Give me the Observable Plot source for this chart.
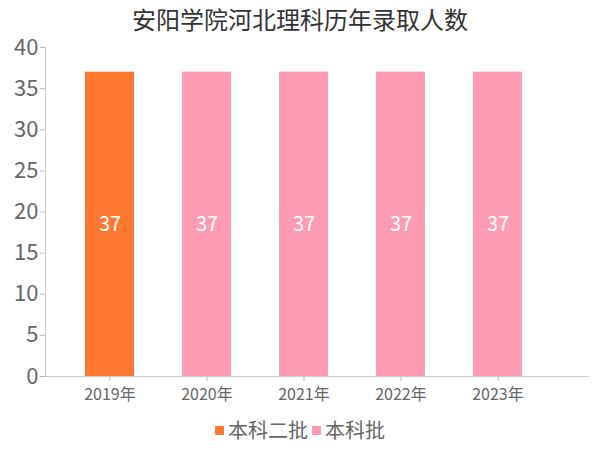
<!DOCTYPE html>
<html>
<head>
<meta charset="utf-8">
<script src="https://cdn.jsdelivr.net/npm/d3@7"></script>
<script src="https://cdn.jsdelivr.net/npm/@observablehq/plot@0.6"></script>
<style>
  html, body { margin: 0; padding: 0; background: #fff; }
  body { width: 600px; height: 450px; overflow: hidden; font-family: "Noto Sans CJK SC", "Noto Sans", sans-serif; }
  #title { height: 38px; line-height: 38px; text-align: center; font-size: 24px; color: #333; }
  #legend { height: 40px; line-height: 40px; text-align: center; font-size: 20px; color: #666; }
  #legend .item { display: inline-block; margin: 0 2px; }
  #legend .sw { display: inline-block; width: 9px; height: 9px; margin-right: 4px; vertical-align: middle; position: relative; top: -2px; }
  #chart svg { display: block; color: #ccc; }
  #chart [aria-label="y-axis tick label"] { font-size: 22px; fill: #666; }
  #chart [aria-label="x-axis tick label"] { font-size: 16px; fill: #666; }
  #chart [aria-label="y-axis tick"], #chart [aria-label="x-axis tick"] { stroke: #bbb; }
</style>
</head>
<body>
<div id="title"></div>
<div id="chart"></div>
<div id="legend"></div>
<script>
const titleText = "安阳学院河北理科历年录取人数";
const years = ["2019年", "2020年", "2021年", "2022年", "2023年"];
const batches = ["本科二批", "本科批", "本科批", "本科批", "本科批"];
const counts = [37, 37, 37, 37, 37];
const seriesNames = ["本科二批", "本科批"];
const seriesColors = ["#FF7832", "#FF9BB5"];
const yTicks = [0, 5, 10, 15, 20, 25, 30, 35, 40];

const data = years.map((y, i) => ({year: y, batch: batches[i], value: counts[i]}));

document.getElementById("title").textContent = titleText;

const chart = Plot.plot({
  width: 600,
  height: 372,
  marginTop: 9,
  marginBottom: 34,
  marginLeft: 45,
  marginRight: 12,
  style: {fontFamily: '"Noto Sans CJK SC", "Noto Sans", sans-serif', background: "#fff", overflow: "visible", color: "#ccc"},
  x: {domain: years, range: [59, 547], paddingInner: 0.5, paddingOuter: 0.25, label: null, tickSize: 5, tickPadding: 7, line: true},
  y: {domain: [0, 40], ticks: yTicks, label: null, tickSize: 5, tickPadding: 2, line: true},
  color: {domain: seriesNames, range: seriesColors},
  marks: [
    Plot.barY(data, {x: "year", y: "value", fill: "batch"}),
    Plot.text(data, {x: "year", y: d => d.value / 2, text: d => String(d.value), fill: "white", fontSize: 20})
  ]
});
document.getElementById("chart").appendChild(chart);

const legend = document.getElementById("legend");
seriesNames.forEach((name, i) => {
  const item = document.createElement("span");
  item.className = "item";
  const sw = document.createElement("span");
  sw.className = "sw";
  sw.style.background = seriesColors[i];
  item.appendChild(sw);
  item.appendChild(document.createTextNode(name));
  legend.appendChild(item);
});
</script>
</body>
</html>
